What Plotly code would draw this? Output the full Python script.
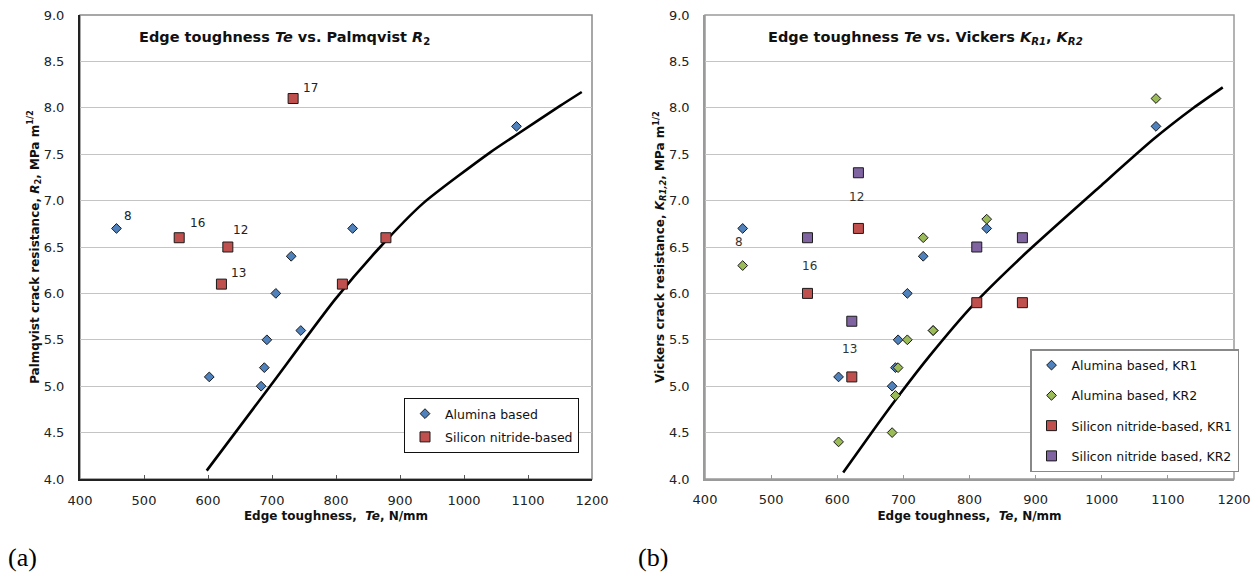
import plotly.graph_objects as go

# ---------------- data: panel (a) ----------------
a_alumina_te = [457, 602, 683, 688, 692, 706, 730, 745, 826, 1082]
a_alumina_r2 = [6.7, 5.1, 5.0, 5.2, 5.5, 6.0, 6.4, 5.6, 6.7, 7.8]
a_sin_te = [555, 621, 631, 733, 810, 878]
a_sin_r2 = [6.6, 6.1, 6.5, 8.1, 6.1, 6.6]
a_curve_te = [598, 697, 798, 869, 936, 1041, 1082, 1150, 1184]
a_curve_r2 = [4.09, 5.0, 5.93, 6.5, 6.97, 7.52, 7.71, 8.02, 8.17]
a_label_text = ["8", "16", "12", "13", "17"]
a_label_te = [457, 555, 631, 621, 733]
a_label_r = [6.7, 6.6, 6.5, 6.1, 8.1]

# ---------------- data: panel (b) ----------------
b_alumina_te = [457, 602, 683, 688, 692, 706, 730, 745, 826, 1082]
b_alumina_kr1 = [6.7, 5.1, 5.0, 5.2, 5.5, 6.0, 6.4, 5.6, 6.7, 7.8]
b_alumina_kr2 = [6.3, 4.4, 4.5, 4.9, 5.2, 5.5, 6.6, 5.6, 6.8, 8.1]
b_sin_te = [555, 622, 632, 811, 880]
b_sin_kr1 = [6.0, 5.1, 6.7, 5.9, 5.9]
b_sin_kr2 = [6.6, 5.7, 7.3, 6.5, 6.6]
b_curve_te = [609, 650, 690, 740, 806, 886, 997, 1078, 1139, 1183]
b_curve_k = [4.07, 4.48, 4.87, 5.33, 5.88, 6.44, 7.15, 7.66, 8.0, 8.22]
b_label_text = ["8", "16", "12", "13"]
b_label_te = [457, 555, 632, 622]
b_label_k = [6.7, 6.6, 7.3, 5.7]

x_ticks = [400, 500, 600, 700, 800, 900, 1000, 1100, 1200]
y_ticks = [4.0, 4.5, 5.0, 5.5, 6.0, 6.5, 7.0, 7.5, 8.0, 8.5, 9.0]

# ---------------- styles ----------------
BLUE = "#4F81BD"
RED = "#C0504D"
GREEN = "#9BBB59"
PURPLE = "#8064A2"
FONT = "DejaVu Sans"
W, H = 1260, 578


def px(x):
    return x / W


def py(y):
    return 1 - y / H


fig = go.Figure()

dia = dict(symbol="diamond", size=7.5, line=dict(color="#1a1a1a", width=1))
sq = dict(symbol="square", size=10, line=dict(color="#1a1a1a", width=1))

# panel (a)
fig.add_trace(go.Scatter(x=a_curve_te, y=a_curve_r2, mode="lines",
                         line=dict(color="black", width=2.6, shape="spline", smoothing=0.6),
                         showlegend=False, xaxis="x", yaxis="y", hoverinfo="skip"))
fig.add_trace(go.Scatter(x=a_alumina_te, y=a_alumina_r2, mode="markers", name="Alumina based",
                         marker=dict(color=BLUE, **dia), xaxis="x", yaxis="y", legend="legend", legendgroup="a1"))
fig.add_trace(go.Scatter(x=a_sin_te, y=a_sin_r2, mode="markers", name="Silicon nitride-based",
                         marker=dict(color=RED, **sq), xaxis="x", yaxis="y", legend="legend", legendgroup="a2"))

# panel (b)
fig.add_trace(go.Scatter(x=b_curve_te, y=b_curve_k, mode="lines",
                         line=dict(color="black", width=2.6, shape="spline", smoothing=0.6),
                         showlegend=False, xaxis="x2", yaxis="y2", hoverinfo="skip"))
fig.add_trace(go.Scatter(x=b_alumina_te, y=b_alumina_kr1, mode="markers", name="Alumina based, KR1",
                         marker=dict(color=BLUE, **dia), xaxis="x2", yaxis="y2", legend="legend2", legendgroup="b1"))
fig.add_trace(go.Scatter(x=b_alumina_te, y=b_alumina_kr2, mode="markers", name="Alumina based, KR2",
                         marker=dict(color=GREEN, **dia), xaxis="x2", yaxis="y2", legend="legend2", legendgroup="b2"))
fig.add_trace(go.Scatter(x=b_sin_te, y=b_sin_kr1, mode="markers", name="Silicon nitride-based, KR1",
                         marker=dict(color=RED, **sq), xaxis="x2", yaxis="y2", legend="legend2", legendgroup="b3"))
fig.add_trace(go.Scatter(x=b_sin_te, y=b_sin_kr2, mode="markers", name="Silicon nitride based, KR2",
                         marker=dict(color=PURPLE, **sq), xaxis="x2", yaxis="y2", legend="legend2", legendgroup="b4"))

xa_dom = [px(80), px(592)]
xb_dom = [px(705), px(1234)]
y_dom = [py(479), py(15)]

common_x = dict(range=[400, 1200], tickvals=x_ticks, ticktext=[str(v) for v in x_ticks],
                ticks="inside", ticklen=4, tickwidth=1, showgrid=False, zeroline=False,
                tickfont=dict(family=FONT, size=13, color="#222"), showline=True,
                ticklabelstandoff=8, automargin=False)
common_y = dict(range=[4.0, 9.0], tickvals=y_ticks, ticktext=[f"{v:.1f}" for v in y_ticks],
                ticks="", showgrid=True, gridcolor="#C4C4C4", gridwidth=1.3, zeroline=False,
                tickfont=dict(family=FONT, size=13, color="#222"), showline=True,
                ticklabelstandoff=11, automargin=False)

fig.update_layout(
    width=W, height=H, margin=dict(l=0, r=0, t=0, b=0, autoexpand=False),
    paper_bgcolor="white", plot_bgcolor="white",
    font=dict(family=FONT, color="#111"),
    xaxis=dict(domain=xa_dom, anchor="y", linecolor="#222", linewidth=2, tickcolor="#555",
               title=dict(text="<b>Edge toughness,  <i>Te</i>, N/mm</b>", font=dict(family=FONT, size=12), standoff=5),
               **common_x),
    yaxis=dict(domain=y_dom, anchor="x", linecolor="#222", linewidth=2,
               title=dict(text="<b>Palmqvist crack resistance, <i>R</i><sub>2</sub>, MPa m<sup>1/2</sup></b>",
                          font=dict(family=FONT, size=12), standoff=2),
               **common_y),
    xaxis2=dict(domain=xb_dom, anchor="y2", linecolor="#9a9a9a", linewidth=1.5, tickcolor="#999",
                title=dict(text="<b>Edge toughness,  <i>Te</i>, N/mm</b>", font=dict(family=FONT, size=12), standoff=5),
                **common_x),
    yaxis2=dict(domain=y_dom, anchor="x2", linecolor="#9a9a9a", linewidth=1.5,
                title=dict(text="<b>Vickers crack resistance, <i>K</i><sub><i>R1,2</i></sub>, MPa m<sup>1/2</sup></b>",
                           font=dict(family=FONT, size=12), standoff=2),
                **common_y),
    legend=dict(x=px(404), y=py(398), xanchor="left", yanchor="top", bgcolor="white",
                bordercolor="#111", borderwidth=1, font=dict(family=FONT, size=12.5, color="#111"),
                tracegroupgap=4, itemwidth=30),
    legend2=dict(x=px(1030), y=py(349), xanchor="left", yanchor="top", bgcolor="white",
                 bordercolor="#888", borderwidth=1.5, font=dict(family=FONT, size=12.5, color="#111"),
                 tracegroupgap=11, itemwidth=30),
)

# frames (gray border around plot areas)
fig.add_shape(type="rect", xref="x domain", yref="y domain", x0=0, x1=1, y0=0, y1=1,
              line=dict(color="#8a8a8a", width=1.5), layer="below")
fig.add_shape(type="rect", xref="x2 domain", yref="y2 domain", x0=0, x1=1, y0=0, y1=1,
              line=dict(color="#9a9a9a", width=1.5), layer="below")

# titles inside plots
fig.add_annotation(x=px(137), y=py(38), xref="paper", yref="paper", xanchor="left", yanchor="middle",
                   text="<b>Edge toughness <i>Te</i> vs. Palmqvist <i>R</i><sub>2</sub></b>",
                   showarrow=False, font=dict(family=FONT, size=14.5, color="#111"))
fig.add_annotation(x=px(766), y=py(38), xref="paper", yref="paper", xanchor="left", yanchor="middle",
                   text="<b>Edge toughness <i>Te</i> vs. Vickers <i>K</i><sub><i>R1</i></sub>, <i>K</i><sub><i>R2</i></sub></b>",
                   showarrow=False, font=dict(family=FONT, size=14.5, color="#111"))

# point labels
a_shift = [(12, 12), (18, 15), (13, 17), (17, 11), (17, 11)]
for t, xv, yv, (dx, dy) in zip(a_label_text, a_label_te, a_label_r, a_shift):
    fig.add_annotation(x=xv, y=yv, xref="x", yref="y", text=t, showarrow=False, xshift=dx, yshift=dy,
                       font=dict(family=FONT, size=12, color="#222"))
b_shift = [(-4, -14), (2, -28), (-2, -24), (-2, -28)]
for t, xv, yv, (dx, dy) in zip(b_label_text, b_label_te, b_label_k, b_shift):
    fig.add_annotation(x=xv, y=yv, xref="x2", yref="y2", text=t, showarrow=False, xshift=dx, yshift=dy,
                       font=dict(family=FONT, size=12, color="#333"))

# panel letters
fig.add_annotation(x=px(6), y=py(557), xref="paper", yref="paper", xanchor="left", yanchor="middle",
                   text="(a)", showarrow=False, font=dict(family="Liberation Serif", size=26, color="black"))
fig.add_annotation(x=px(636), y=py(557), xref="paper", yref="paper", xanchor="left", yanchor="middle",
                   text="(b)", showarrow=False, font=dict(family="Liberation Serif", size=26, color="black"))

fig.write_html("out.html")
